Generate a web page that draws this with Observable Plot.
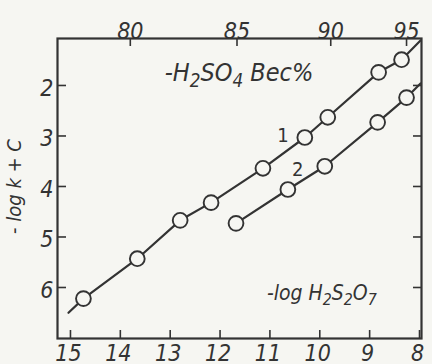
<!DOCTYPE html>
<html><head><meta charset="utf-8">
<script src="https://cdn.jsdelivr.net/npm/d3@7"></script>
<script src="https://cdn.jsdelivr.net/npm/@observablehq/plot@0.6"></script>
<style>
body{margin:0;background:#f6f6f2;}
#c svg{display:block;background:#f6f6f2;}
</style></head><body><div id="c"></div>
<script>
// curve 1: -log H2S2O7 vs -log k + C
const s1x = [14.74, 13.66, 12.80, 12.18, 11.14, 10.30, 9.84, 8.82, 8.36];
const s1y = [6.22, 5.43, 4.67, 4.32, 3.64, 3.03, 2.63, 1.74, 1.49];
const s1Start = [15.04, 6.50];
const s1End = [7.98, 1.11];
// curve 2
const s2x = [11.68, 10.64, 9.90, 8.84, 8.26];
const s2y = [4.73, 4.06, 3.60, 2.73, 2.24];
const s2End = [7.98, 1.96];
// axes
const bottomTicks = [15, 14, 13, 12, 11, 10, 9, 8];
const yTicks = [2, 3, 4, 5, 6];
const topLabels = ["80", "85", "90", "95"];
const topPos = [13.8, 11.66, 9.78, 8.26];
// annotations
const curveText = ["1", "2"];
const curveX = [10.74, 10.44];
const curveY = [2.99, 3.66];
const annText = ["-H\u2082SO\u2084 \u0412ес%", "-log H\u2082S\u2082O\u2087"];
const annX = [11.62, 9.96];
const annY = [1.76, 6.12];
const annSize = [25, 21];

const pts1 = s1x.map((x, i) => ({x, y: s1y[i]}));
const pts2 = s2x.map((x, i) => ({x, y: s2y[i]}));
const line1 = [{x: s1Start[0], y: s1Start[1]}, ...pts1, {x: s1End[0], y: s1End[1]}];
const line2 = [...pts2, {x: s2End[0], y: s2End[1]}];
const topData = topLabels.map((t, i) => ({t, x: topPos[i]}));
const curveLab = curveText.map((t, i) => ({t, x: curveX[i], y: curveY[i]}));
const ann = annText.map((t, i) => ({t, x: annX[i], y: annY[i], s: annSize[i]}));

const ink = "#333";
const font = "'Liberation Sans Narrow', 'DejaVu Sans Condensed', 'Liberation Sans', sans-serif";
const W = 432, H = 364, mt = 38, mb = 26, ml = 57, mr = 11;
const fh = H - mt - mb, fw = W - ml - mr;
const bg = "#f6f6f2";

const chart = Plot.plot({
  width: W, height: H,
  marginTop: mt, marginBottom: mb, marginLeft: ml, marginRight: mr,
  style: {background: bg, fontFamily: font, color: ink, overflow: "visible"},
  x: {domain: [15.26, 7.96], axis: null},
  y: {domain: [1.07, 7.01], reverse: true, axis: null},
  marks: [
    Plot.frame({stroke: ink, strokeWidth: 2.2}),
    Plot.tickX(bottomTicks, {x: d => d, insetTop: fh - 8, stroke: ink, strokeWidth: 1.6}),
    Plot.tickX(topData, {x: "x", insetBottom: fh - 8, stroke: ink, strokeWidth: 1.6}),
    Plot.tickY(yTicks, {y: d => d, insetRight: fw - 9, stroke: ink, strokeWidth: 1.6}),
    Plot.tickY(yTicks, {y: d => d, insetLeft: fw - 8, stroke: ink, strokeWidth: 1.6}),
    Plot.text(bottomTicks, {x: d => d, frameAnchor: "bottom", dx: -2, dy: 22, text: d => String(d), fontSize: 23, fontStyle: "italic", fill: ink}),
    Plot.text(topData, {x: "x", frameAnchor: "top", dy: -16, text: "t", fontSize: 23, fontStyle: "italic", fill: ink}),
    Plot.text(yTicks, {y: d => d, frameAnchor: "left", dx: -4, dy: 3, textAnchor: "end", text: d => String(d), fontSize: 23, fontStyle: "italic", fill: ink}),
    Plot.text(["- log k + C"], {x: 15.26, y: 4.0, dx: -43, rotate: -90, text: d => d, fontSize: 20, fontStyle: "italic", fill: ink}),
    Plot.line(line1, {x: "x", y: "y", stroke: ink, strokeWidth: 2.2}),
    Plot.line(line2, {x: "x", y: "y", stroke: ink, strokeWidth: 2.2}),
    Plot.dot(pts1, {x: "x", y: "y", r: 7.4, fill: bg, stroke: ink, strokeWidth: 1.9}),
    Plot.dot(pts2, {x: "x", y: "y", r: 7.4, fill: bg, stroke: ink, strokeWidth: 1.9}),
    Plot.text(curveLab, {x: "x", y: "y", text: "t", fontSize: 20, fill: ink}),
    Plot.text(ann, {x: "x", y: "y", text: "t", fontSize: d => d.s, fontStyle: "italic", fill: ink})
  ]
});

// render unicode subscript digits as real lowered, smaller tspans
const subMap = {"\u2080":"0","\u2081":"1","\u2082":"2","\u2083":"3","\u2084":"4","\u2085":"5","\u2086":"6","\u2087":"7","\u2088":"8","\u2089":"9"};
d3.select(chart).selectAll("text").each(function() {
  const s = this.textContent;
  if (!/[\u2080-\u2089]/.test(s) || this.children.length) return;
  const el = d3.select(this);
  el.text(null);
  let shift = 0;
  const runs = [];
  for (const ch of s) {
    const isSub = ch in subMap;
    if (!runs.length || runs[runs.length - 1].sub !== isSub) runs.push({sub: isSub, t: ""});
    runs[runs.length - 1].t += isSub ? subMap[ch] : ch;
  }
  for (const r of runs) {
    const ts = el.append("tspan").text(r.t);
    if (r.sub) { ts.attr("font-size", "75%").attr("dy", "0.28em"); shift = 1; }
    else if (shift) { ts.attr("dy", "-0.21em"); shift = 0; }
  }
});
document.getElementById("c").appendChild(chart);
</script></body></html>
